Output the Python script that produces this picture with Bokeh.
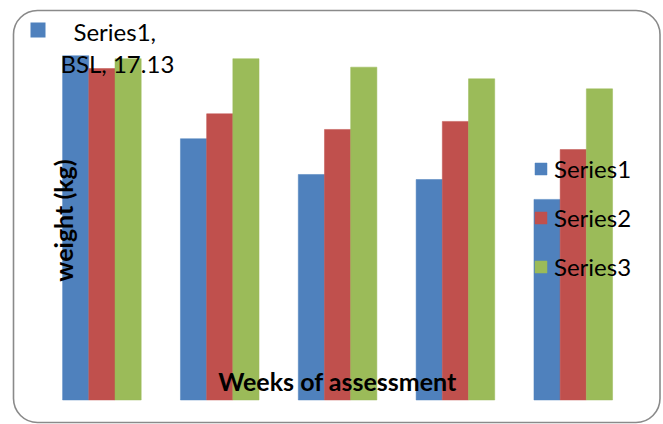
import math
from bokeh.plotting import figure
from bokeh.models import ColumnDataSource, Range1d, Legend
from bokeh.transform import dodge
from bokeh.core.properties import value
from bokeh.embed import file_html
from bokeh.resources import INLINE

# ---- data ----
categories = ["BSL", "Week 4", "Week 8", "Week 12", "Week 16"]
series_names = ["Series1", "Series2", "Series3"]
series1 = [17.13, 13.00, 11.22, 10.97, 9.98]
series2 = [16.49, 14.24, 13.46, 13.86, 12.46]
series3 = [16.98, 16.98, 16.56, 15.98, 15.48]
colors = ["#4F81BD", "#C0504D", "#9BBB59"]

W, H = 663, 424
X0, X1 = -0.8605, 4.7658
Y0, Y1 = -1.2189, 19.876


def xd(px):
    return X0 + px * (X1 - X0) / W


def yd(py):
    return Y1 - py * (Y1 - Y0) / H


src = ColumnDataSource(dict(idx=list(range(len(categories))), cat=categories,
                            s1=series1, s2=series2, s3=series3))

p = figure(width=W, height=H, output_backend="svg", toolbar_location=None,
           x_range=Range1d(X0, X1), y_range=Range1d(Y0, Y1),
           x_axis_type=None, y_axis_type=None, min_border=0)
p.outline_line_color = None
p.background_fill_color = "white"
p.border_fill_color = "white"

bw = 0.2223
renderers = []
for i, (col, name) in enumerate(zip(["s1", "s2", "s3"], series_names)):
    r = p.vbar(x=dodge("idx", (i - 1) * bw, range=None), top=col, bottom=0,
               width=bw, source=src, fill_color=colors[i], line_color=colors[i],
               line_width=0.5)
    renderers.append(r)

# rounded chart-area border
p.quad(left=[xd(13)], right=[xd(659.5)], top=[yd(10)], bottom=[yd(422)],
       fill_color=None, line_color="#8a8a8a", line_width=1.6, border_radius=24)

font = value("Lato")

# data label with legend key
p.scatter(x=[xd(37.5)], y=[yd(29.5)], marker="square", size=15,
          fill_color=colors[0], line_color=None)
p.text(x=[xd(73), xd(60)], y=[yd(31), yd(62.5)],
       text=[f"{series_names[0]},", f"{categories[0]}, {series1[0]}"],
       text_font=font, text_font_size="24px", text_color="black",
       text_align="left", text_baseline="alphabetic")

# axis titles (overlaid like the original)
p.text(x=[xd(337)], y=[yd(380.5)], text=["Weeks of assessment"], text_font=font,
       text_font_style="bold", text_font_size="25px", text_color="black",
       text_align="center", text_baseline="alphabetic")
p.text(x=[xd(62)], y=[yd(220)], text=["weight (kg)"], text_font=font,
       text_font_style="bold", text_font_size="25px", text_color="black",
       text_align="center", text_baseline="alphabetic", angle=math.pi / 2)

legend = Legend(items=[(n, [r]) for n, r in zip(series_names, renderers)],
                location=(533, 143), orientation="vertical")
legend.label_text_font = "Lato"
legend.label_text_font_size = "24px"
legend.label_text_color = "black"
legend.glyph_width = 15
legend.glyph_height = 15
legend.label_standoff = 6
legend.spacing = 20
legend.padding = 0
legend.margin = 0
legend.background_fill_alpha = 0
legend.border_line_color = None
p.add_layout(legend, "center")

open("out.html", "w").write(file_html(p, INLINE))
